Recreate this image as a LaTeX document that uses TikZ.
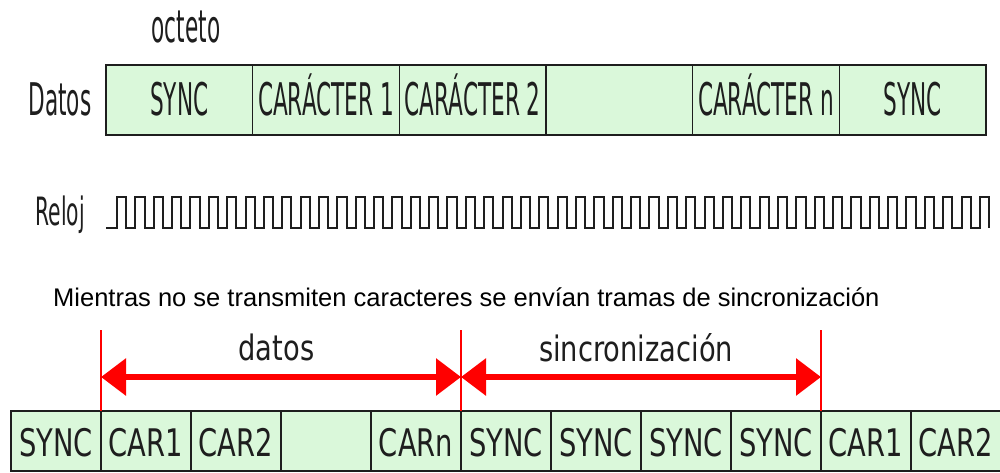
\documentclass[tikz,border=0pt]{standalone}
\usepackage{fontspec}
\usepackage{graphicx}
\usetikzlibrary{arrows.meta}
\setmainfont{Liberation Sans}
\newfontfamily\tah{DejaVu Sans}
\definecolor{cellgreen}{RGB}{218,248,218}
\definecolor{ink}{RGB}{30,30,30}
\definecolor{pure red}{RGB}{255,0,0}
\newcommand\nt[3]{\scalebox{#2}[1]{\fontsize{#1}{#1}\selectfont\tah #3}}
\newcommand\toptxt[1]{\nt{45}{0.48}{#1}}
\newcommand\bottxt[1]{\nt{38}{0.72}{#1}}
\tikzset{
  cellbase/.style={draw=ink, line width=1.6pt, fill=cellgreen, anchor=north west,
    inner sep=0pt, outer sep=0pt, text height=30pt, text depth=0pt, text=ink},
  topcell/.style={cellbase, minimum width=146.67pt, minimum height=70pt},
  botcell/.style={cellbase, minimum width=90pt, minimum height=60pt},
  clockline/.style={draw=ink, line width=2pt, line join=miter},
  redline/.style={draw=pure red, line width=1.6pt},
  redarrow/.style={draw=pure red, line width=6pt,
    {Triangle[length=25pt,width=36pt]}-{Triangle[length=25pt,width=36pt]}},
  lbl/.style={anchor=base, inner sep=0pt, text=ink}
}
\begin{document}
\begin{tikzpicture}[x=1pt,y=-1pt]
\useasboundingbox (0,0) rectangle (1000,472);

% top data row
\node[lbl] (octeto) at (186,42) {\toptxt{octeto}};
\node[lbl] (datoslbl) at (60,115) {\toptxt{Datos}};
\node[topcell] (t1) at (106,65) {\toptxt{SYNC}};
\node[topcell] (t2) at (252.67,65) {\toptxt{CARÁCTER 1}};
\node[topcell] (t3) at (399.33,65) {\toptxt{CARÁCTER 2}};
\node[topcell] (t4) at (546,65) {};
\node[topcell] (t5) at (692.67,65) {\toptxt{CARÁCTER n}};
\node[topcell] (t6) at (839.33,65) {\toptxt{SYNC}};

% clock
\node[lbl] (reloj) at (60,225) {\nt{39}{0.52}{Reloj}};
\draw[clockline] (106,228)
  \foreach \k in {0,...,47}{
    -- ({117+18.36*\k},228) -- ({117+18.36*\k},197)
    -- ({126.2+18.36*\k},197) -- ({126.2+18.36*\k},228)
  };

% caption
\node[anchor=base west, inner sep=0pt] (caption) at (53,306)
  {\fontsize{25.5}{25.5}\selectfont Mientras no se transmiten caracteres se envían tramas de sincronización};

% bottom row
\node[botcell] (b1) at (11,411) {\bottxt{SYNC}};
\node[botcell] (b2) at (101,411) {\bottxt{CAR1}};
\node[botcell] (b3) at (191,411) {\bottxt{CAR2}};
\node[botcell] (b4) at (281,411) {};
\node[botcell] (b5) at (371,411) {\bottxt{CARn}};
\node[botcell] (b6) at (461,411) {\bottxt{SYNC}};
\node[botcell] (b7) at (551,411) {\bottxt{SYNC}};
\node[botcell] (b8) at (641,411) {\bottxt{SYNC}};
\node[botcell] (b9) at (731,411) {\bottxt{SYNC}};
\node[botcell] (b10) at (821,411) {\bottxt{CAR1}};
\node[botcell] (b11) at (911,411) {\bottxt{CAR2}};

% red markers
\coordinate (m1) at (101,330);
\coordinate (m2) at (461,330);
\coordinate (m3) at (821,330);
\coordinate (a1) at (101,377);
\coordinate (a2) at (461,377);
\coordinate (a3) at (821,377);
\draw[redline] (m1) -- (b2.north west);
\draw[redline] (m2) -- (b6.north west);
\draw[redline] (m3) -- (b10.north west);
\draw[redarrow] (a1) -- (a2);
\draw[redarrow] (a2) -- (a3);
\node[lbl] (datos) at (276.5,360) {\nt{35}{0.78}{datos}};
\node[lbl] (sinc) at (636,361) {\nt{35}{0.78}{sincronización}};
\end{tikzpicture}
\end{document}
